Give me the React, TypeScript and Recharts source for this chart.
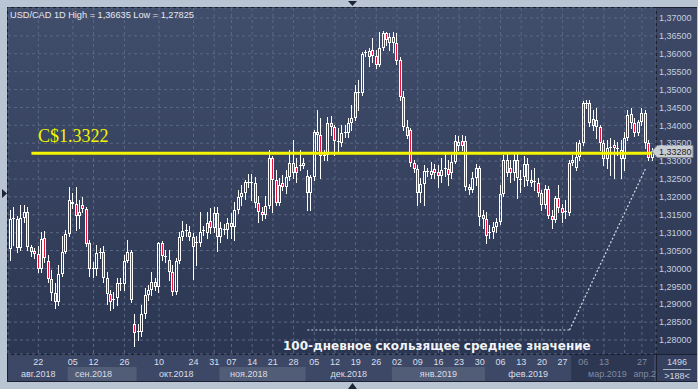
import React from 'react';
import { ComposedChart, Bar, XAxis, YAxis, CartesianGrid, ReferenceLine, ReferenceArea } from 'recharts';

const opens = [
  1.3054, 1.3138, 1.3138, 1.3057, 1.3141, 1.3158, 1.3060, 1.3049, 1.3040, 1.2998,
  1.3085, 1.3021, 1.2971, 1.2931, 1.2906, 1.2984, 1.3046, 1.3096, 1.3186, 1.3180,
  1.3147, 1.3177, 1.3166, 1.3071, 1.2998, 1.2998, 1.3043, 1.3046, 1.2973, 1.2929,
  1.2912, 1.2917, 1.2957, 1.2957, 1.3021, 1.3046, 1.2845, 1.2822, 1.2822, 1.2873,
  1.2926, 1.2940, 1.2962, 1.2948, 1.3071, 1.3032, 1.3024, 1.2990, 1.2934, 1.3021,
  1.3088, 1.3107, 1.3102, 1.3088, 1.3071, 1.3071, 1.3105, 1.3099, 1.3133, 1.3113,
  1.3155, 1.3088, 1.3107, 1.3107, 1.3127, 1.3116, 1.3163, 1.3200, 1.3211, 1.3239,
  1.3239, 1.3239, 1.3183, 1.3158, 1.3149, 1.3175, 1.3309, 1.3247, 1.3183, 1.3239,
  1.3228, 1.3256, 1.3295, 1.3284, 1.3286, 1.3286, 1.3258, 1.3211, 1.3256, 1.3381,
  1.3373, 1.3314, 1.3317, 1.3407, 1.3395, 1.3353, 1.3351, 1.3379, 1.3379, 1.3407,
  1.3420, 1.3490, 1.3490, 1.3602, 1.3591, 1.3611, 1.3594, 1.3569, 1.3616, 1.3658,
  1.3647, 1.3630, 1.3630, 1.3583, 1.3479, 1.3395, 1.3387, 1.3295, 1.3278, 1.3211,
  1.3236, 1.3270, 1.3261, 1.3278, 1.3270, 1.3258, 1.3278, 1.3278, 1.3267, 1.3298,
  1.3342, 1.3356, 1.3356, 1.3228, 1.3219, 1.3253, 1.3281, 1.3149, 1.3138, 1.3099,
  1.3102, 1.3116, 1.3130, 1.3208, 1.3303, 1.3281, 1.3267, 1.3303, 1.3247, 1.3256,
  1.3292, 1.3247, 1.3242, 1.3239, 1.3211, 1.3177, 1.3222, 1.3147, 1.3135, 1.3197,
  1.3169, 1.3158, 1.3155, 1.3295, 1.3281, 1.3312, 1.3351, 1.3460, 1.3462, 1.3418,
  1.3395, 1.3395, 1.3351, 1.3306, 1.3337, 1.3345, 1.3334, 1.3306, 1.3306, 1.3365,
  1.3432, 1.3407, 1.3379, 1.3409, 1.3434, 1.3351, 1.3309,
];

const highs = [
  1.3163, 1.3172, 1.3147, 1.3177, 1.3177, 1.3172, 1.3066, 1.3057, 1.3063, 1.3102,
  1.3105, 1.3038, 1.2996, 1.2959, 1.3010, 1.3091, 1.3107, 1.3228, 1.3211, 1.3228,
  1.3191, 1.3200, 1.3172, 1.3080, 1.3018, 1.3066, 1.3057, 1.3063, 1.2990, 1.2940,
  1.2934, 1.2973, 1.2973, 1.3038, 1.3080, 1.3052, 1.2873, 1.2845, 1.2898, 1.2945,
  1.2954, 1.2990, 1.2973, 1.3074, 1.3077, 1.3052, 1.3052, 1.3010, 1.3029, 1.3102,
  1.3133, 1.3124, 1.3119, 1.3099, 1.3091, 1.3158, 1.3119, 1.3158, 1.3169, 1.3172,
  1.3172, 1.3130, 1.3124, 1.3141, 1.3155, 1.3186, 1.3219, 1.3233, 1.3247, 1.3264,
  1.3264, 1.3256, 1.3203, 1.3172, 1.3203, 1.3331, 1.3314, 1.3275, 1.3253, 1.3261,
  1.3275, 1.3331, 1.3359, 1.3309, 1.3331, 1.3309, 1.3275, 1.3261, 1.3387, 1.3443,
  1.3420, 1.3331, 1.3423, 1.3426, 1.3401, 1.3393, 1.3401, 1.3401, 1.3420, 1.3457,
  1.3513, 1.3527, 1.3605, 1.3611, 1.3616, 1.3644, 1.3611, 1.3661, 1.36635, 1.3661,
  1.3658, 1.3661, 1.3658, 1.3591, 1.3496, 1.3415, 1.3393, 1.3303, 1.3289, 1.3253,
  1.3289, 1.3281, 1.3298, 1.3292, 1.3289, 1.3309, 1.3323, 1.3303, 1.3317, 1.3373,
  1.3370, 1.3373, 1.3370, 1.3236, 1.3270, 1.3292, 1.3286, 1.3163, 1.3158, 1.3121,
  1.3130, 1.3141, 1.3233, 1.3317, 1.3326, 1.3303, 1.3326, 1.3326, 1.3275, 1.3314,
  1.3309, 1.3275, 1.3281, 1.3253, 1.3219, 1.3233, 1.3230, 1.3163, 1.3203, 1.3233,
  1.3180, 1.3191, 1.3303, 1.3317, 1.3353, 1.3359, 1.3468, 1.3471, 1.3471, 1.3443,
  1.3448, 1.3401, 1.3359, 1.3359, 1.3365, 1.3359, 1.3353, 1.3359, 1.3381, 1.3443,
  1.3448, 1.3420, 1.3415, 1.3448, 1.3443, 1.3359, 1.3337,
];

const lows = [
  1.3024, 1.3066, 1.3046, 1.3052, 1.3130, 1.3052, 1.3035, 1.3029, 1.2990, 1.2990,
  1.3018, 1.2962, 1.2912, 1.2889, 1.2898, 1.2979, 1.3043, 1.3091, 1.3169, 1.3107,
  1.3113, 1.3158, 1.3063, 1.2979, 1.2976, 1.2982, 1.3029, 1.2962, 1.2901, 1.2884,
  1.2889, 1.2898, 1.2940, 1.2940, 1.3018, 1.2906, 1.27825, 1.2800, 1.2811, 1.2861,
  1.2912, 1.2926, 1.2940, 1.2934, 1.3024, 1.3018, 1.2968, 1.2926, 1.2929, 1.3015,
  1.3080, 1.3091, 1.3080, 1.2971, 1.3010, 1.3063, 1.3094, 1.3085, 1.3099, 1.3102,
  1.3049, 1.3074, 1.3096, 1.3085, 1.3085, 1.3080, 1.3155, 1.3177, 1.3194, 1.3228,
  1.3191, 1.3172, 1.3130, 1.3135, 1.3141, 1.3169, 1.3158, 1.3177, 1.3177, 1.3219,
  1.3211, 1.3247, 1.3253, 1.3242, 1.3275, 1.3281, 1.3163, 1.3163, 1.3247, 1.3331,
  1.3253, 1.3303, 1.3303, 1.3373, 1.3317, 1.3326, 1.3342, 1.3367, 1.3367, 1.3387,
  1.3415, 1.3443, 1.3485, 1.3594, 1.3566, 1.3577, 1.3560, 1.3566, 1.3611, 1.3625,
  1.3611, 1.3605, 1.3571, 1.3471, 1.3387, 1.3365, 1.3286, 1.3270, 1.3177, 1.3186,
  1.3177, 1.3258, 1.3253, 1.3253, 1.3228, 1.3242, 1.3258, 1.3233, 1.3253, 1.3295,
  1.3331, 1.3331, 1.3219, 1.3208, 1.3214, 1.3233, 1.3121, 1.3113, 1.3071, 1.3085,
  1.3085, 1.3102, 1.3124, 1.3203, 1.3258, 1.3242, 1.3247, 1.3197, 1.3214, 1.3230,
  1.3233, 1.3230, 1.3219, 1.3203, 1.3163, 1.3169, 1.3141, 1.3113, 1.3130, 1.3158,
  1.3130, 1.3141, 1.3149, 1.3289, 1.3275, 1.3303, 1.3345, 1.3448, 1.3398, 1.3387,
  1.3365, 1.3331, 1.3289, 1.3281, 1.3261, 1.3253, 1.3317, 1.3253, 1.3275, 1.3359,
  1.3393, 1.3370, 1.3373, 1.3401, 1.3337, 1.3303, 1.3303,
];

const closes = [
  1.3138, 1.3141, 1.3057, 1.3141, 1.3158, 1.3060, 1.3046, 1.3040, 1.2998, 1.3082,
  1.3029, 1.2971, 1.2931, 1.2906, 1.2984, 1.3046, 1.3096, 1.3191, 1.3180, 1.3147,
  1.3158, 1.3166, 1.3068, 1.2998, 1.3001, 1.3043, 1.3046, 1.2973, 1.2929, 1.2906,
  1.2915, 1.2959, 1.2959, 1.3021, 1.3046, 1.2912, 1.2820, 1.2825, 1.2873, 1.2926,
  1.2940, 1.2962, 1.2948, 1.3071, 1.3035, 1.3035, 1.2990, 1.2934, 1.3021, 1.3088,
  1.3105, 1.3105, 1.3088, 1.3060, 1.3074, 1.3102, 1.3107, 1.3127, 1.3113, 1.3155,
  1.3088, 1.3113, 1.3110, 1.3127, 1.3116, 1.3163, 1.3200, 1.3211, 1.3242, 1.3242,
  1.3242, 1.3183, 1.3158, 1.3149, 1.3175, 1.3309, 1.3247, 1.3183, 1.3233, 1.3228,
  1.3256, 1.3295, 1.3267, 1.3267, 1.3289, 1.3295, 1.3211, 1.3256, 1.3381, 1.3373,
  1.3314, 1.3317, 1.3407, 1.3395, 1.3356, 1.3356, 1.3379, 1.3381, 1.3407, 1.3420,
  1.3493, 1.3493, 1.3599, 1.3605, 1.3608, 1.3594, 1.3569, 1.3616, 1.3658, 1.3639,
  1.3630, 1.3647, 1.3580, 1.3479, 1.3395, 1.3370, 1.3295, 1.3278, 1.3211, 1.3236,
  1.3272, 1.3272, 1.3272, 1.3267, 1.3258, 1.3275, 1.3281, 1.3261, 1.3298, 1.3356,
  1.3353, 1.3342, 1.3228, 1.3219, 1.3253, 1.3281, 1.3144, 1.3138, 1.3091, 1.3102,
  1.3116, 1.3130, 1.3208, 1.3303, 1.3267, 1.3267, 1.3303, 1.3253, 1.3250, 1.3292,
  1.3244, 1.3239, 1.3244, 1.3211, 1.3177, 1.3222, 1.3147, 1.3135, 1.3197, 1.3169,
  1.3155, 1.3161, 1.3295, 1.3303, 1.3312, 1.3351, 1.3462, 1.3462, 1.3407, 1.3398,
  1.3415, 1.3351, 1.3306, 1.3337, 1.3339, 1.3337, 1.3337, 1.3331, 1.3365, 1.3429,
  1.3407, 1.3379, 1.3409, 1.3434, 1.3351, 1.3309, 1.3328,
];

// x-axis: candle index of each labelled week, and its label
const dayTickIdx = [8, 18, 24, 33, 43, 53, 59, 64, 70, 76, 82, 88, 94, 100, 106, 112, 118, 124, 130, 136, 142, 148, 154, 160, 166, 172, 178, 183];
const dayTickLabels = ['22', '05', '12', '26', '10', '24', '31', '07', '14', '21', '28', '05', '12', '19', '26', '02', '09', '16', '23', '30', '06', '13', '20', '27', '06', '13', '', '27'];
const monthTickIdx = [8, 24, 48, 69, 98, 124, 150, 173, 186];
const monthLabels = ['авг.2018', 'сен.2018', 'окт.2018', 'ноя.2018', 'дек.2018', 'янв.2019', 'фев.2019', 'мар.2019', 'апр.2019'];
// alternating month bands [first candle, last candle]
const monthBands = [[17, 36], [61, 85], [111, 137]];
const futureStart = 163;

const yTicks = [1.28, 1.285, 1.29, 1.295, 1.3, 1.305, 1.31, 1.315, 1.32, 1.325, 1.33, 1.335, 1.34, 1.345, 1.35, 1.355, 1.36, 1.365, 1.37];
const yDomain = [1.27609, 1.37279];
const axisRowSplit = 1.27246;
const axisBottom = 1.26855;

const priceLevel = 1.3322;
const priceLevelStart = 6;
const maPath = [
  { x: 86, y: 1.2828 },
  { x: 162, y: 1.2828 },
  { x: 184, y: 1.3278 },
];

const data = opens.map((o, k) => ({ i: k, open: o, high: highs[k], low: lows[k], close: closes[k] }));
const lastClose = closes[closes.length - 1];

const fmt = (v: number) => v.toFixed(5).replace('.', ',');
const AXIS_FONT = 'Liberation Sans, Arial, sans-serif';

const Candle = (props: any) => {
  const { x, y, width, height, payload } = props;
  if (!payload || x == null || y == null) return null;
  const { open, close, high, low } = payload;
  const top = Math.min(y, y + height);
  const bot = Math.max(y, y + height);
  const span = high - low || 1e-9;
  const py = (v: number) => top + ((high - v) / span) * (bot - top);
  const cx = Math.floor(x + width / 2) + 0.5;
  const yH = Math.round(top);
  const yL = Math.round(bot);
  const bTop = Math.round(py(Math.max(open, close)));
  const bBot = Math.round(py(Math.min(open, close)));
  const up = close >= open;
  const w = '#ffffff';
  if (bBot - bTop < 2) {
    return (
      <g>
        <line x1={cx} x2={cx} y1={yH} y2={yL + 1} stroke={w} strokeWidth={1} />
        <line x1={cx - 1.5} x2={cx + 1.5} y1={bTop + 0.5} y2={bTop + 0.5} stroke={w} strokeWidth={1} />
      </g>
    );
  }
  return (
    <g>
      <line x1={cx} x2={cx} y1={yH} y2={bTop} stroke={w} strokeWidth={1} />
      <line x1={cx} x2={cx} y1={bBot} y2={yL + 1} stroke={w} strokeWidth={1} />
      <rect x={cx - 1} y={bTop + 0.5} width={2} height={bBot - bTop - 1} fill={up ? 'none' : '#e8143c'} stroke={w} strokeWidth={1} />
    </g>
  );
};

const DayTick = (props: any) => {
  const { x, y, payload } = props;
  const i = Number(payload.value);
  const k = dayTickIdx.indexOf(i);
  const label = k >= 0 ? dayTickLabels[k] : '';
  return (
    <text x={x} y={y + 11} textAnchor="middle" fill={i >= futureStart ? '#7f8aa2' : '#d9dfea'} fontSize={9} fontFamily={AXIS_FONT}>
      {label}
    </text>
  );
};

const MonthTick = (props: any) => {
  const { x, y, payload } = props;
  const i = Number(payload.value);
  const k = monthTickIdx.indexOf(i);
  const label = k >= 0 ? monthLabels[k] : '';
  const isLast = k === monthLabels.length - 1;
  const fill = i >= futureStart ? '#7f8aa2' : '#d9dfea';
  if (isLast) {
    return (
      <g>
        <defs>
          <clipPath id="month-edge-clip">
            <rect x={x - 40} y={y} width={43.5} height={14} />
          </clipPath>
        </defs>
        <text x={x} y={y + 10} textAnchor="middle" fill={fill} fontSize={9} fontFamily={AXIS_FONT} clipPath="url(#month-edge-clip)">
          {label}
        </text>
      </g>
    );
  }
  return (
    <text x={x} y={y + 10} textAnchor="middle" fill={fill} fontSize={9} fontFamily={AXIS_FONT}>
      {label}
    </text>
  );
};

const PriceTag = (props: any) => {
  const vb = props.viewBox || {};
  const right = (vb.x || 0) + (vb.width || 0);
  const cy = Math.round(vb.y || 0) + 0.5;
  return (
    <g>
      <polygon
        points={`${right - 4},${cy} ${right + 1},${cy - 6} ${right + 37},${cy - 6} ${right + 37},${cy + 6} ${right + 1},${cy + 6}`}
        fill="#c9cdd5"
        stroke="#80858f"
        strokeWidth={1}
      />
      <text x={right + 3} y={cy + 3.5} fontSize={9} fill="#1c1c1c" fontFamily={AXIS_FONT}>
        {fmt(lastClose)}
      </text>
    </g>
  );
};

export default function App() {
  return (
    <div style={{ position: 'absolute', left: 0, top: 0, width: 698, height: 389, background: '#bac5d4', overflow: 'hidden' }}>
      <div style={{ position: 'absolute', left: 7, top: 7, width: 690, height: 375, background: '#1b2130' }} />
      <div style={{ position: 'absolute', left: 8, top: 8, width: 648, height: 346, background: 'linear-gradient(#414e6b, #2b3652)' }} />
      <div style={{ position: 'absolute', left: 657, top: 8, width: 40, height: 346, background: 'linear-gradient(#3d4966, #2b3652)' }} />
      <div style={{ position: 'absolute', left: 8, top: 355, width: 648, height: 26, background: '#3c4866' }} />
      <div style={{ position: 'absolute', left: 0, top: 0 }}>
        <ComposedChart width={698} height={389} data={data} margin={{ top: 8, right: 0, bottom: 8, left: 8 }}>
          <CartesianGrid stroke="#5a6784" strokeDasharray="3 3" fill="none" />
          {monthBands.map(([a, b], k) => (
            <ReferenceArea key={k} x1={a} x2={b} y1={axisBottom} y2={axisRowSplit} ifOverflow="visible" fill="#ffffff" fillOpacity={0.11} stroke="none" />
          ))}
          <ReferenceArea x1={futureStart} x2={data.length - 1} y1={axisBottom} y2={yDomain[0]} ifOverflow="visible" fill="#0c1120" fillOpacity={0.3} stroke="none" />
          <XAxis
            dataKey="i"
            type="category"
            ticks={dayTickIdx}
            interval={0}
            tickSize={0}
            tickMargin={0}
            axisLine={false}
            tickLine={false}
            height={13}
            padding={{ left: 1, right: 2 }}
            tick={<DayTick />}
          />
          <XAxis
            xAxisId="m"
            dataKey="i"
            type="category"
            ticks={monthTickIdx}
            interval={0}
            tickSize={0}
            tickMargin={0}
            axisLine={false}
            tickLine={false}
            height={14}
            padding={{ left: 1, right: 2 }}
            tick={<MonthTick />}
          />
          <YAxis
            orientation="right"
            width={42}
            type="number"
            domain={yDomain}
            allowDataOverflow
            ticks={yTicks}
            interval={0}
            tickSize={0}
            tickMargin={3}
            axisLine={false}
            tickLine={false}
            tickFormatter={fmt}
            tick={{ fill: '#c6cfdf', fontSize: 9, fontFamily: AXIS_FONT, textAnchor: 'start' }}
          />
          <Bar dataKey={(d: any) => [d.low, d.high]} barSize={3} shape={<Candle />} isAnimationActive={false} />
          <ReferenceLine
            segment={[{ x: priceLevelStart, y: priceLevel }, { x: data.length - 1, y: priceLevel }]}
            stroke="#f4f400"
            strokeWidth={3}
          />
          <ReferenceLine segment={[maPath[0], maPath[1]]} stroke="#d4dae4" strokeWidth={1} strokeDasharray="2 2" />
          <ReferenceLine segment={[maPath[1], maPath[2]]} stroke="#d4dae4" strokeWidth={1.2} strokeDasharray="2 2" />
          <ReferenceLine y={lastClose} stroke="none" label={<PriceTag />} />
        </ComposedChart>
      </div>
      <div style={{ position: 'absolute', left: 657, top: 355, width: 40, height: 26, background: '#35415e' }} />
      <svg width={698} height={389} style={{ position: 'absolute', left: 0, top: 0, pointerEvents: 'none' }}>
        <text x={10} y={18} fontSize={9.2} fill="#e4e8f0" fontFamily={AXIS_FONT}>USD/CAD 1D High = 1,36635 Low = 1,27825</text>
        <text x={38} y={142} fontSize={18} fill="#f4f400" fontFamily="Liberation Serif, Times New Roman, serif">C$1.3322</text>
        <text x={283} y={350} fontSize={12} fontWeight="bold" fill="#f2f4f8" fontFamily="DejaVu Sans, sans-serif">100-дневное скользящее среднее значение</text>
        <text x={677} y={365} fontSize={9} fill="#d0d7e4" textAnchor="middle" fontFamily={AXIS_FONT}>1496</text>
        <line x1={663} x2={691} y1={369.5} y2={369.5} stroke="#aab4c6" strokeWidth={1} />
        <text x={677} y={379} fontSize={9} fill="#d0d7e4" textAnchor="middle" fontFamily={AXIS_FONT}>&gt;188&lt;</text>
        <polygon points="348,1 357,1 352.5,6" fill="#1d2433" />
        <polygon points="348,389 357,389 352.5,383" fill="#1d2433" />
        <polygon points="2,189 2,198 7,193.5" fill="#1d2433" />
      </svg>
    </div>
  );
}
